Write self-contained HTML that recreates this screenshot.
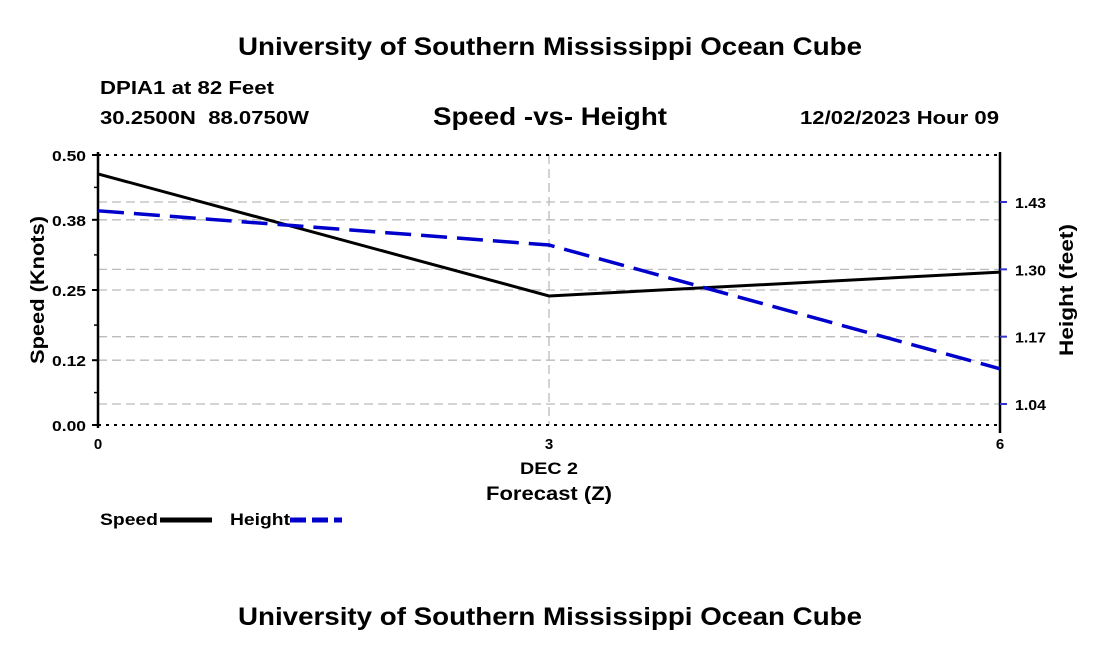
<!DOCTYPE html>
<html><head><meta charset="utf-8"><style>
body{margin:0;background:#fff;}
svg{display:block;font-family:"Liberation Sans",Arial,sans-serif;font-weight:bold;}
</style></head><body>
<svg id="c" width="1100" height="650" viewBox="0 0 1100 650">
<text x="238" y="55" font-size="25" textLength="624" lengthAdjust="spacingAndGlyphs">University of Southern Mississippi Ocean Cube</text>
<text x="100" y="94" font-size="18" textLength="174" lengthAdjust="spacingAndGlyphs">DPIA1 at 82 Feet</text>
<text x="100" y="124" font-size="18" textLength="209" lengthAdjust="spacingAndGlyphs" xml:space="preserve" style="white-space:pre">30.2500N  88.0750W</text>
<text x="433" y="125" font-size="25" textLength="234" lengthAdjust="spacingAndGlyphs">Speed -vs- Height</text>
<text x="800" y="124" font-size="18" textLength="199" lengthAdjust="spacingAndGlyphs">12/02/2023 Hour 09</text>
<text x="238" y="625" font-size="25" textLength="624" lengthAdjust="spacingAndGlyphs">University of Southern Mississippi Ocean Cube</text>
<text transform="translate(44,290) rotate(-90)" font-size="19" text-anchor="middle" textLength="148" lengthAdjust="spacingAndGlyphs">Speed (Knots)</text>
<text transform="translate(1073,290) rotate(-90)" font-size="19" text-anchor="middle" textLength="132" lengthAdjust="spacingAndGlyphs">Height (feet)</text>
<text x="549" y="474" font-size="17" text-anchor="middle" textLength="58" lengthAdjust="spacingAndGlyphs">DEC 2</text>
<text x="549" y="500" font-size="19" text-anchor="middle" textLength="126" lengthAdjust="spacingAndGlyphs">Forecast (Z)</text>
<g>
<text x="100" y="525" font-size="17" textLength="58" lengthAdjust="spacingAndGlyphs">Speed</text>
<line x1="160" y1="520" x2="212" y2="520" stroke="#000" stroke-width="5"/>
<text x="230" y="525" font-size="17" textLength="60" lengthAdjust="spacingAndGlyphs">Height</text>
<line x1="290" y1="520" x2="342" y2="520" stroke="#0000cc" stroke-width="5" stroke-dasharray="16,6"/>
</g>
<g id="plot"></g>
</svg>
<script>
const hours=[0,3,6];
const speed=[0.465,0.239,0.283];
const height=[1.413,1.347,1.108];
const leftTicks=["0.00","0.12","0.25","0.38","0.50"];
const rightTicks=["1.04","1.17","1.30","1.43"];
const xTicks=["0","3","6"];
const X0=98,X1=1000,YT=155,YB=425;
const xs=h=>X0+(h-0)/(6-0)*(X1-X0);
const ysL=v=>YB-(v/0.5)*(YB-YT);
const ysR=v=>404-(v-1.04)/0.13*67.33;
const NS="http://www.w3.org/2000/svg";
const g=document.getElementById('plot');
function mk(t,a){const e=document.createElementNS(NS,t);for(const k in a)e.setAttribute(k,a[k]);g.appendChild(e);return e;}
leftTicks.forEach((t,i)=>{const y=ysL(parseFloat(t));if(i>0&&i<leftTicks.length-1){const e=mk('line',{x1:X0,x2:X1,y1:y,y2:y,stroke:'#bbb','stroke-width':1.3,'stroke-dasharray':'9,5'});

}});
rightTicks.forEach(t=>{const y=ysR(parseFloat(t));const e=mk('line',{x1:X0,x2:X1,y1:y,y2:y,stroke:'#bbb','stroke-width':1.3,'stroke-dasharray':'9,5'});

});
{const e=mk('line',{x1:xs(3),x2:xs(3),y1:YT,y2:YB,stroke:'#bbb','stroke-width':1.3,'stroke-dasharray':'9,5'});

}
[YT,YB].forEach(y=>{const e=mk('line',{x1:X0,x2:X1,y1:y,y2:y,stroke:'#000','stroke-width':2,'stroke-dasharray':'3,5'});

});
{const e=mk('line',{x1:X0,x2:X0,y1:YT-3,y2:YB+3,stroke:'#000','stroke-width':2.5});

}
{const e=mk('line',{x1:X1,x2:X1,y1:YT-3,y2:YB+8,stroke:'#000','stroke-width':2.5});

}
leftTicks.forEach(t=>{const y=ysL(parseFloat(t));
const l=mk('line',{x1:X0-6,x2:X0,y1:y,y2:y,stroke:'#000','stroke-width':2});


const e=mk('text',{x:X0-12,y:y+6,'font-size':15,'text-anchor':'end',textLength:34,lengthAdjust:'spacingAndGlyphs'});e.textContent=t;

});
for(let i=0;i<4;i++){const y=(ysL(parseFloat(leftTicks[i]))+ysL(parseFloat(leftTicks[i+1])))/2;
const l=mk('line',{x1:X0-4,x2:X0,y1:y,y2:y,stroke:'#000','stroke-width':1.5});

}
rightTicks.forEach(t=>{const y=ysR(parseFloat(t));
const l=mk('line',{x1:X1,x2:X1+7,y1:y,y2:y,stroke:'#33c','stroke-width':2});


const e=mk('text',{x:X1+15,y:y+6,'font-size':15,textLength:31,lengthAdjust:'spacingAndGlyphs'});e.textContent=t;

});
xTicks.forEach(t=>{const x=xs(parseFloat(t));
const e=mk('text',{x:x,y:YB+24,'font-size':15,'text-anchor':'middle'});e.textContent=t;

});
{const e=mk('polyline',{points:hours.map((h,i)=>xs(h)+','+ysL(speed[i])).join(' '),fill:'none',stroke:'#000','stroke-width':3});

}
{const e=mk('polyline',{points:hours.map((h,i)=>xs(h)+','+ysR(height[i])).join(' '),fill:'none',stroke:'#0000cc','stroke-width':3.5,'stroke-dasharray':'26,10'});

}
</script>
</body></html>
